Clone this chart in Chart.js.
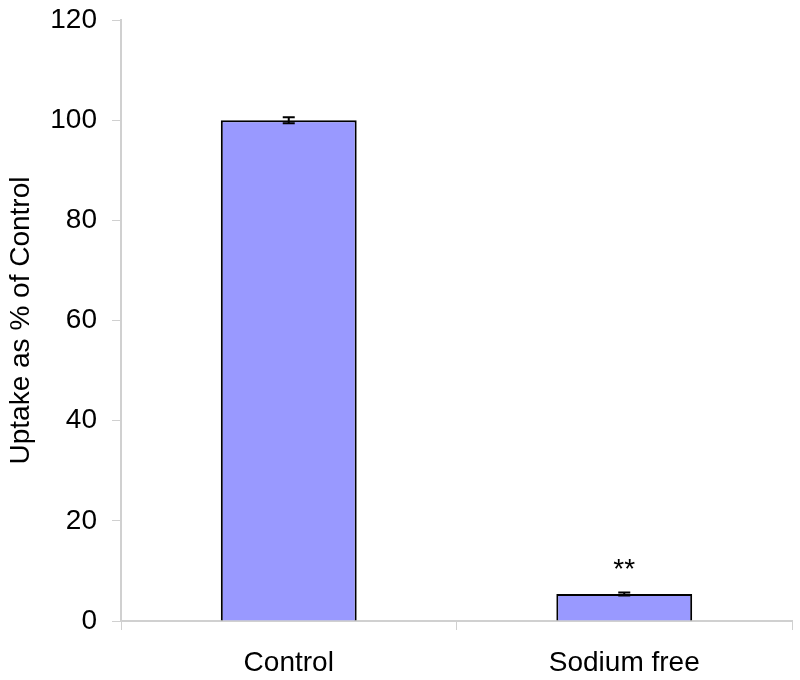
<!DOCTYPE html>
<html>
<head>
<meta charset="utf-8">
<script src="https://cdn.jsdelivr.net/npm/chart.js@4"></script>
<style>
  html, body { margin: 0; padding: 0; background: #fff; }
  #wrap { width: 800px; height: 680px; }
</style>
</head>
<body>
<div id="wrap"><canvas id="uptakeChart" width="800" height="680"></canvas></div>
<script>
const categories = ['Control', 'Sodium free'];
const uptake = [100, 5.4];
const uptakeErr = [0.6, 0.3];
const marks = ['', '**'];
const yTicks = [0, 20, 40, 60, 80, 100, 120];

const FONT = '"Liberation Sans", Arial, sans-serif';
const AXIS_GREY = '#d0d0d0';

// error bars + significance stars drawn on top of the bars
const errorBars = {
  id: 'errorBars',
  afterDatasetsDraw(chart) {
    const ctx = chart.ctx;
    const x = chart.scales.x, y = chart.scales.y;
    ctx.save();
    ctx.strokeStyle = '#000';
    ctx.lineWidth = 2;
    uptake.forEach((v, i) => {
      const cx = x.getPixelForValue(i);
      const top = y.getPixelForValue(v + uptakeErr[i]);
      const bot = y.getPixelForValue(v - uptakeErr[i]);
      ctx.beginPath();
      ctx.moveTo(cx, top); ctx.lineTo(cx, bot);
      ctx.moveTo(cx - 6, top); ctx.lineTo(cx + 6, top);
      ctx.moveTo(cx - 6, bot); ctx.lineTo(cx + 6, bot);
      ctx.stroke();
      if (marks[i]) {
        ctx.fillStyle = '#000';
        ctx.font = '28px ' + FONT;
        ctx.textAlign = 'center';
        ctx.textBaseline = 'alphabetic';
        ctx.fillText(marks[i], cx, top - 14);
      }
    });
    ctx.restore();
  }
};

new Chart(document.getElementById('uptakeChart'), {
  type: 'bar',
  data: {
    labels: categories,
    datasets: [{
      data: uptake,
      backgroundColor: '#9999ff',
      borderColor: '#000',
      borderWidth: 2,
      barPercentage: 0.405,
      categoryPercentage: 1
    }]
  },
  options: {
    responsive: false,
    animation: false,
    layout: { padding: { top: 20, right: 8, left: 0, bottom: 0 } },
    plugins: { legend: { display: false }, tooltip: { enabled: false } },
    scales: {
      x: {
        grid: { offset: true, drawOnChartArea: false, tickLength: 9, color: AXIS_GREY },
        border: { color: AXIS_GREY, width: 2 },
        ticks: { color: '#000', font: { family: FONT, size: 28 }, padding: 16 },
        afterFit: s => { s.height = 59; }
      },
      y: {
        min: 0,
        max: 120,
        afterBuildTicks: s => { s.ticks = yTicks.map(v => ({ value: v })); },
        grid: { drawOnChartArea: false, tickLength: 9, color: AXIS_GREY },
        border: { color: AXIS_GREY, width: 2 },
        ticks: { color: '#000', font: { family: FONT, size: 28 }, padding: 15 },
        title: {
          display: true,
          text: 'Uptake as % of Control',
          color: '#000',
          font: { family: FONT, size: 28 },
          padding: { top: 4, bottom: 0 }
        },
        afterFit: s => { s.width = 121; s.paddingTop = 0; s.paddingBottom = 0; }
      }
    }
  },
  plugins: [errorBars]
});
</script>
</body>
</html>
